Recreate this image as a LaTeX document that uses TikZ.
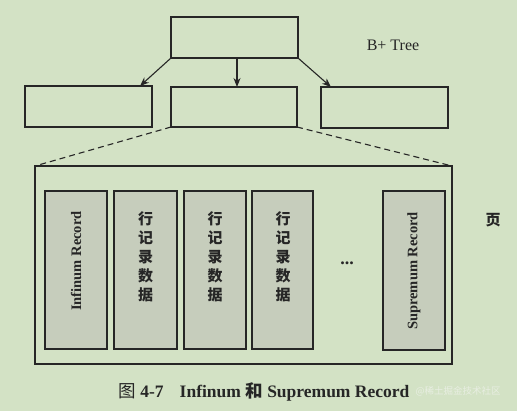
\documentclass[tikz,border=0pt]{standalone}
\usepackage{fontspec}
\setmainfont{Liberation Serif}
\newfontfamily\cjk{Noto Sans CJK SC}
\usetikzlibrary{arrows.meta}
\definecolor{bg}{RGB}{211,226,197}
\definecolor{recfill}{RGB}{198,205,188}
\definecolor{wm}{RGB}{232,238,226}
\tikzset{
  treebox/.style={draw=black!85, line width=1.3pt},
  recbox/.style={draw=black!85, fill=recfill, line width=1.3pt},
  conn/.style={-{Stealth[length=9pt,width=7pt]}, line width=1.1pt, draw=black!85},
  dashconn/.style={dash pattern=on 6pt off 4pt, line width=1.1pt, draw=black!85},
  rectext/.style={font=\bfseries\fontsize{14.5}{16}\selectfont, text=black!85},
  cjktext/.style={font=\cjk\bfseries\fontsize{15}{19}\selectfont, text=black!85, align=center},
}
\begin{document}
\begin{tikzpicture}[x=1pt,y=-1pt]
\fill[bg] (0,0) rectangle (517,411);
\useasboundingbox (0,0) rectangle (517,411);
% tree
\draw[treebox] (171,17) rectangle (298,58);
\coordinate (rootBL) at (171,58);
\coordinate (rootBM) at (237,58);
\coordinate (rootBR) at (298,58);
\draw[treebox] (25,86) rectangle (152,127);
\draw[treebox] (171,87) rectangle (297,127);
\draw[treebox] (321,87) rectangle (448,128);
\coordinate (leftT) at (140,86);
\coordinate (midT) at (237,87);
\coordinate (rightT) at (331,87);
\draw[conn] (rootBL) -- (leftT);
\draw[conn] (rootBM) -- (midT);
\draw[conn] (rootBR) -- (rightT);
\node[font=\fontsize{16}{18}\selectfont, text=black!85] (bt) at (393,45) {B+ Tree};
% page
\draw[treebox] (35,166) rectangle (452,364);
\coordinate (midBL) at (171,127);
\coordinate (midBR) at (297,127);
\coordinate (pageTL) at (35,166);
\coordinate (pageTR) at (452,166);
\draw[dashconn] (midBL) -- (pageTL);
\draw[dashconn] (midBR) -- (pageTR);
% records
\draw[recbox] (45,191) rectangle (107,349);
\node[rectext, rotate=90] (inf) at (76,261) {Infinum Record};
\draw[recbox] (114,191) rectangle (177,349);
\node[cjktext] (r1) at (145.5,257) {行\\记\\录\\数\\据};
\draw[recbox] (184,191) rectangle (246,349);
\node[cjktext] (r2) at (215,257) {行\\记\\录\\数\\据};
\draw[recbox] (252,191) rectangle (313,349);
\node[cjktext] (r3) at (283,257) {行\\记\\录\\数\\据};
\node[font=\bfseries\fontsize{18}{20}\selectfont, text=black!85] (dots) at (347,263) {...};
\draw[recbox] (383,191) rectangle (445,350);
\node[rectext, rotate=90] (sup) at (414,271) {Supremum Record};
\node[font=\cjk\bfseries\fontsize{15}{17}\selectfont, text=black!85] (ye) at (493,220) {页};
% caption
\node[font=\bfseries\fontsize{17.5}{19}\selectfont, text=black!85, anchor=west] (cap) at (115,392) {{\cjk\mdseries 图} 4-7\hspace{16pt}Infinum {\cjk 和} Supremum Record};
\node[font=\cjk\fontsize{9.5}{11}\selectfont, text=wm, anchor=west] (wmk) at (412,391) {@稀土掘金技术社区};
\end{tikzpicture}
\end{document}
